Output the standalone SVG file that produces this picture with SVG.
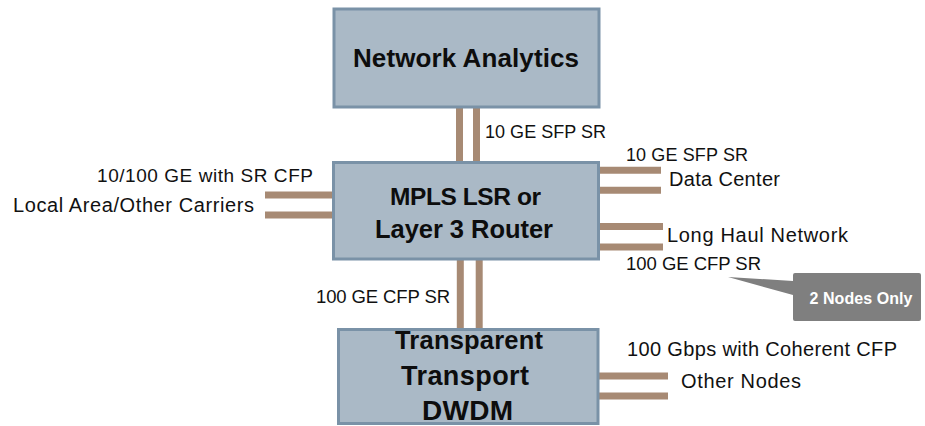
<svg xmlns="http://www.w3.org/2000/svg" width="925" height="426" viewBox="0 0 925 426">
  <style>
    .box { fill: #aab9c6; stroke: #7a92a7; stroke-width: 3; }
    .title { font-family: "Liberation Sans", Arial, sans-serif; font-weight: bold; font-size: 26px; fill: #0d0d0d; text-anchor: middle; }
    .lbl { font-family: "Liberation Sans", Arial, sans-serif; font-size: 20px; fill: #111111; }
    .lbl.caps { font-size: 18.5px; }
    .link { stroke: #a78a74; stroke-width: 7; fill: none; }
    .callout { fill: #7f7f7f; }
    .callout-text { font-family: "Liberation Sans", Arial, sans-serif; font-weight: bold; font-size: 16px; fill: #ffffff; text-anchor: middle; }
  </style>

  <!-- fibre pairs between devices and to outside networks -->
  <g id="connectors">
    <!-- analytics to router -->
    <line class="link" x1="459.5" y1="106" x2="459.5" y2="162"/>
    <line class="link" x1="476.5" y1="106" x2="476.5" y2="162"/>
    <!-- router to DWDM -->
    <line class="link" x1="460.3" y1="259" x2="460.3" y2="329"/>
    <line class="link" x1="479.2" y1="259" x2="479.2" y2="329"/>
    <!-- local area / other carriers -->
    <line class="link" x1="265" y1="195" x2="334" y2="195"/>
    <line class="link" x1="265" y1="215" x2="334" y2="215"/>
    <!-- data center -->
    <line class="link" x1="598" y1="170.3" x2="661" y2="170.3"/>
    <line class="link" x1="598" y1="190.3" x2="661" y2="190.3"/>
    <!-- long haul network -->
    <line class="link" x1="598" y1="226.5" x2="663" y2="226.5"/>
    <line class="link" x1="598" y1="247" x2="663" y2="247"/>
    <!-- other DWDM nodes -->
    <line class="link" x1="598" y1="376" x2="668" y2="376"/>
    <line class="link" x1="598" y1="396" x2="668" y2="396"/>
  </g>

  <g id="network-analytics">
    <rect class="box" x="334" y="9" width="265" height="98"/>
    <text class="title" x="466" y="67" textLength="226">Network Analytics</text>
  </g>

  <g id="mpls-router">
    <rect class="box" x="333.5" y="162.5" width="265" height="96.5"/>
    <text class="title" x="465.5" y="205" style="font-size:24.5px" textLength="151">MPLS LSR or</text>
    <text class="title" x="464" y="238" style="font-size:25.5px" textLength="178">Layer 3 Router</text>
  </g>

  <g id="dwdm-transport">
    <rect class="box" x="338.5" y="329.5" width="259.5" height="94"/>
    <text class="title" x="469" y="349" style="font-size:25.5px" textLength="148">Transparent</text>
    <text class="title" x="465" y="385" style="font-size:27px" textLength="128">Transport</text>
    <text class="title" x="467.5" y="420" style="font-size:28px" textLength="91">DWDM</text>
  </g>

  <g id="labels">
    <text class="lbl caps" x="485" y="138" style="font-size:18px" textLength="121">10 GE SFP SR</text>
    <text class="lbl" x="97" y="182" style="font-size:19px" textLength="216">10/100 GE with SR CFP</text>
    <text class="lbl" x="13" y="212" textLength="241">Local Area/Other Carriers</text>
    <text class="lbl caps" x="626" y="161" style="font-size:18px" textLength="122">10 GE SFP SR</text>
    <text class="lbl" x="669" y="186" textLength="111">Data Center</text>
    <text class="lbl" x="667" y="242" textLength="181">Long Haul Network</text>
    <text class="lbl caps" x="626" y="270" textLength="135">100 GE CFP SR</text>
    <text class="lbl caps" x="316" y="303" textLength="134">100 GE CFP SR</text>
    <text class="lbl" x="627" y="356" textLength="270">100 Gbps with Coherent CFP</text>
    <text class="lbl" x="681" y="388" textLength="120">Other Nodes</text>
  </g>

  <g id="note-two-nodes">
    <path class="callout" d="M728,277 L793,281 L793,275 Q793,273 795,273 L919,273 Q921,273 921,275 L921,319 Q921,321 919,321 L795,321 Q793,321 793,319 L793,295 Z"/>
    <text class="callout-text" x="861" y="304" textLength="103">2 Nodes Only</text>
  </g>
</svg>
